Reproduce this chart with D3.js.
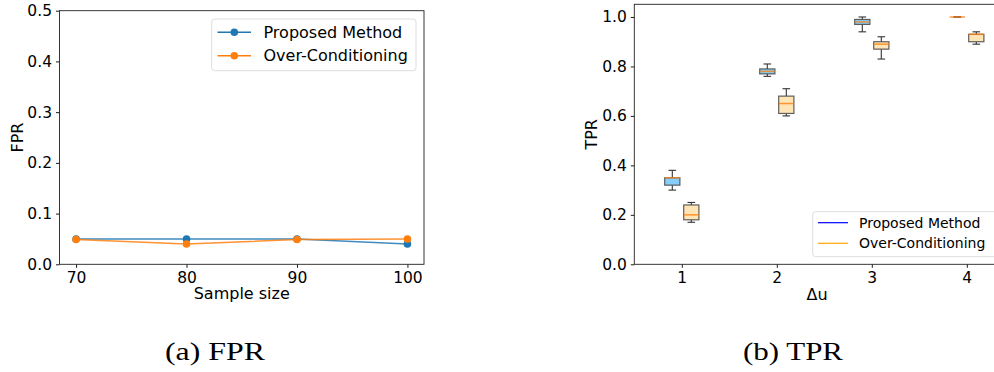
<!DOCTYPE html>
<html><head><meta charset="utf-8">
<script src="https://cdn.jsdelivr.net/npm/d3@7"></script>
<style>
html,body{margin:0;padding:0;background:#fff;}
svg{display:block;}
text{font-family:"DejaVu Sans",sans-serif;fill:#000;}
</style></head><body>
<svg id="c" width="994" height="372"></svg>
<script>
// ---- Data: panel (a) FPR ----
const sampleSizes = [70, 80, 90, 100];
const fprProposed = [0.05, 0.05, 0.05, 0.04];
const fprOver = [0.049, 0.04, 0.049, 0.05];
const fprTicks = [0.0, 0.1, 0.2, 0.3, 0.4, 0.5];

// ---- Data: panel (b) TPR box plots ----
const deltaU = [1, 2, 3, 4];
// [whiskerLow, q1, median, q3, whiskerHigh]
const tprProposed = [
  [0.30, 0.32, 0.35, 0.35, 0.38],
  [0.76, 0.77, 0.78, 0.79, 0.81],
  [0.94, 0.97, 0.98, 0.99, 1.00],
  [1.00, 1.00, 1.00, 1.00, 1.00]
];
const tprOver = [
  [0.17, 0.18, 0.20, 0.24, 0.25],
  [0.60, 0.61, 0.65, 0.68, 0.71],
  [0.83, 0.87, 0.89, 0.90, 0.92],
  [0.89, 0.90, 0.93, 0.93, 0.94]
];
const tprTicks = [0.0, 0.2, 0.4, 0.6, 0.8, 1.0];
const legendNames = ["Proposed Method", "Over-Conditioning"];
const captions = ["(a) FPR", "(b) TPR"];

const svg = d3.select("#c");
const FS = 15.5;

function styleAxis(g){
  g.selectAll(".domain").remove();
  g.selectAll(".tick line").attr("stroke","#000").attr("stroke-width",0.9);
  g.selectAll(".tick text").style("font-size",FS+"px").style("font-family","DejaVu Sans");
}

// ---------- Panel (a) ----------
{
  const L=59.5, R=424, T=10.7, B=264.3;
  const x = d3.scaleLinear().domain([68.5,101.5]).range([L,R]);
  const y = d3.scaleLinear().domain([0,0.5]).range([B,T]);
  const g = svg.append("g");
  g.append("g").attr("transform",`translate(0,${B})`)
    .call(d3.axisBottom(x).tickValues(sampleSizes).tickSize(3.5).tickPadding(4).tickFormat(d3.format("d")))
    .call(styleAxis);
  g.append("g").attr("transform",`translate(${L},0)`)
    .call(d3.axisLeft(y).tickValues(fprTicks).tickSize(3.5).tickPadding(4).tickFormat(d3.format(".1f")))
    .call(styleAxis);
  g.append("rect").attr("x",L).attr("y",T).attr("width",R-L).attr("height",B-T)
    .attr("fill","none").attr("stroke","#222").attr("stroke-width",0.9);

  const series = [{v:fprProposed,c:"#1f77b4"},{v:fprOver,c:"#ff7f0e"}];
  const line = d3.line().x((d,i)=>x(sampleSizes[i])).y(d=>y(d));
  series.forEach(s=>{
    g.append("path").datum(s.v).attr("d",line).attr("fill","none")
      .attr("stroke",s.c).attr("stroke-width",1.5).attr("stroke-opacity",0.85);
    g.selectAll(null).data(s.v).enter().append("circle")
      .attr("cx",(d,i)=>x(sampleSizes[i])).attr("cy",d=>y(d)).attr("r",3.8).attr("fill",s.c);
  });

  g.append("text").attr("x",(L+R)/2).attr("y",299).attr("text-anchor","middle")
    .style("font-size","16px").text("Sample size");
  g.append("text").attr("transform",`translate(23,${(T+B)/2}) rotate(-90)`).attr("text-anchor","middle")
    .style("font-size","16px").text("FPR");

  // legend
  const lg = g.append("g");
  lg.append("rect").attr("x",211.7).attr("y",19).attr("width",204.3).attr("height",51.7).attr("rx",3)
    .attr("fill","#fff").attr("fill-opacity",0.8).attr("stroke","#ddd").attr("stroke-width",1);
  series.forEach((s,i)=>{
    const yy = 32.3 + i*23.4;
    lg.append("line").attr("x1",217.5).attr("x2",251).attr("y1",yy).attr("y2",yy)
      .attr("stroke",s.c).attr("stroke-width",1.5);
    lg.append("circle").attr("cx",234.3).attr("cy",yy).attr("r",3.8).attr("fill",s.c);
    lg.append("text").attr("x",263.5).attr("y",yy).attr("dy","0.36em")
      .style("font-size","16px").text(legendNames[i]);
  });
}

// ---------- Panel (b) ----------
{
  const L=634.3, R=1014.3, T=4.3, B=264.3;
  const x = d3.scaleLinear().domain([0.5,4.5]).range([L,R]);
  const y = d3.scaleLinear().domain([0,1.0513]).range([B,T]);
  const g = svg.append("g");
  g.append("g").attr("transform",`translate(0,${B})`)
    .call(d3.axisBottom(x).tickValues(deltaU).tickSize(3.5).tickPadding(4).tickFormat(d3.format("d")))
    .call(styleAxis);
  g.append("g").attr("transform",`translate(${L},0)`)
    .call(d3.axisLeft(y).tickValues(tprTicks).tickSize(3.5).tickPadding(4).tickFormat(d3.format(".1f")))
    .call(styleAxis);
  g.append("rect").attr("x",L).attr("y",T).attr("width",R-L).attr("height",B-T)
    .attr("fill","none").attr("stroke","#222").attr("stroke-width",0.9);

  const groups = [
    {data:tprProposed, off:-0.1, fill:"#87cefa"},
    {data:tprOver, off:0.1, fill:"#ffe4b5"}
  ];
  const bw = 0.16;
  groups.forEach(gr=>{
    gr.data.forEach((d,i)=>{
      const cx = x(deltaU[i]+gr.off);
      const hw = (x(bw)-x(0))/2;
      const cw = hw/2;
      const [lo,q1,med,q3,hi] = d;
      const bg = g.append("g");
      bg.append("line").attr("x1",cx).attr("x2",cx).attr("y1",y(q3)).attr("y2",y(hi)).attr("stroke","#333").attr("stroke-width",1.1);
      bg.append("line").attr("x1",cx).attr("x2",cx).attr("y1",y(q1)).attr("y2",y(lo)).attr("stroke","#333").attr("stroke-width",1.1);
      bg.append("line").attr("x1",cx-cw).attr("x2",cx+cw).attr("y1",y(hi)).attr("y2",y(hi)).attr("stroke","#333").attr("stroke-width",1.1);
      bg.append("line").attr("x1",cx-cw).attr("x2",cx+cw).attr("y1",y(lo)).attr("y2",y(lo)).attr("stroke","#333").attr("stroke-width",1.1);
      bg.append("rect").attr("x",cx-hw).attr("y",y(q3)).attr("width",2*hw).attr("height",Math.max(0,y(q1)-y(q3)))
        .attr("fill",gr.fill).attr("stroke","#444").attr("stroke-width",1.2).attr("stroke-opacity",0.85);
      bg.append("line").attr("x1",cx-hw).attr("x2",cx+hw).attr("y1",y(med)).attr("y2",y(med))
        .attr("stroke","#ff7f0e").attr("stroke-width",1.5).attr("stroke-opacity",0.8);
    });
  });

  g.append("text").attr("x",817).attr("y",300).attr("text-anchor","middle")
    .style("font-size","16px").text("Δu");
  g.append("text").attr("transform",`translate(597,${(T+B)/2}) rotate(-90)`).attr("text-anchor","middle")
    .style("font-size","16px").text("TPR");

  const lg = g.append("g");
  lg.append("rect").attr("x",812.7).attr("y",211.7).attr("width",190).attr("height",45).attr("rx",3)
    .attr("fill","#fff").attr("fill-opacity",0.8).attr("stroke","#ddd").attr("stroke-width",1);
  const lc = ["#0000ff","#ffa500"];
  lc.forEach((c,i)=>{
    const yy = 222.7 + i*20.6;
    lg.append("line").attr("x1",818).attr("x2",848).attr("y1",yy).attr("y2",yy).attr("stroke",c).attr("stroke-width",1.2);
    lg.append("text").attr("x",859).attr("y",yy).attr("dy","0.36em").style("font-size","14px").text(legendNames[i]);
  });
}

// captions
[215, 793].forEach((cx,i)=>{
  svg.append("text").attr("x",cx).attr("y",360).attr("text-anchor","middle")
    .attr("textLength",100).attr("lengthAdjust","spacingAndGlyphs")
    .style("font-family","'Liberation Serif',serif").style("font-size","26px").text(captions[i]);
});
</script>
</body></html>
